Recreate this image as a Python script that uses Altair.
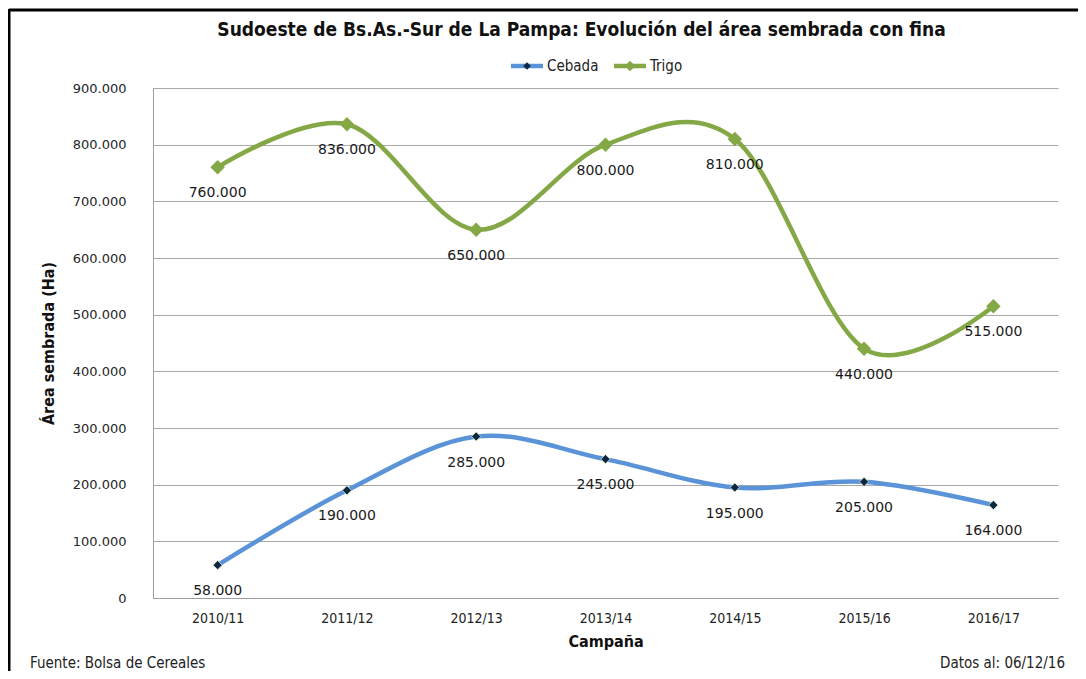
import altair as alt
import pandas as pd

campanas = ["2010/11", "2011/12", "2012/13", "2013/14", "2014/15", "2015/16", "2016/17"]
series = ["Cebada", "Trigo"]
cebada = [58000, 190000, 285000, 245000, 195000, 205000, 164000]
trigo = [760000, 836000, 650000, 800000, 810000, 440000, 515000]
y_ticks = [0, 100000, 200000, 300000, 400000, 500000, 600000, 700000, 800000, 900000]
titulo = "Sudoeste de Bs.As.-Sur de La Pampa: Evolución del área sembrada con fina"
fuente = "Fuente: Bolsa de Cereales"
fecha = "Datos al: 06/12/16"

colores = ["#5A93D8", "#84A846"]

rows = []
for s, vals in zip(series, [cebada, trigo]):
    for c, v in zip(campanas, vals):
        rows.append({"Campaña": c, "Serie": s, "Valor": v})
df = pd.DataFrame(rows)

W, H = 905, 510
CAL = "'Liberation Sans Narrow', 'DejaVu Sans Condensed', sans-serif"
VER = "'DejaVu Sans', Verdana, sans-serif"
FMT_VAL = "replace(format(datum.Valor, ','), regexp(',', 'g'), '.')"
FMT_AX = "replace(format(datum.value, ','), regexp(',', 'g'), '.')"

x = alt.X(
    "Campaña:N", sort=campanas,
    scale=alt.Scale(type="point", padding=0.5),
    axis=alt.Axis(title="Campaña", labelAngle=0, labelFont=CAL, labelFontSize=14,
                  labelColor="#222222", labelPadding=13, ticks=False,
                  domainColor="#9e9e9e", titleFont=CAL, titleFontSize=16,
                  titleFontWeight="bold", titlePadding=8, titleColor="#111111",
                  grid=False),
)
y = alt.Y(
    "Valor:Q",
    scale=alt.Scale(domain=[0, 900000], nice=False),
    axis=alt.Axis(title="Área sembrada (Ha)", values=y_ticks, labelExpr=FMT_AX,
                  labelFont=VER, labelFontSize=13, labelColor="#262626",
                  labelPadding=27, ticks=False, domainColor="#9e9e9e",
                  grid=True, gridColor="#a8a8a8", gridWidth=1,
                  titleFont=CAL, titleFontSize=16, titleFontWeight="bold",
                  titleColor="#111111", titlePadding=16),
)
color = alt.Color("Serie:N", scale=alt.Scale(domain=series, range=colores), legend=None)

base = alt.Chart(df).encode(x=x, y=y, color=color)

lines = base.mark_line(interpolate="cardinal", strokeWidth=4.5, strokeCap="round")
trigo_pts = base.transform_filter("datum.Serie == 'Trigo'").mark_point(
    shape="diamond", filled=True, size=210, opacity=1)
ceb_pts = base.transform_filter("datum.Serie == 'Cebada'").mark_point(
    shape="diamond", filled=True, size=85, opacity=1, stroke="#e4ead2", strokeWidth=0.8
).encode(color=alt.value("#0E2841"))
labels = base.transform_calculate(Etiqueta=FMT_VAL).mark_text(
    dy=26, font=VER, fontSize=14
).encode(text="Etiqueta:N", color=alt.value("#1a1a1a"))

one = pd.DataFrame({"k": [0]})

# title as text
title_mark = alt.Chart(one).mark_text(
    text=titulo, font=CAL, fontSize=19, fontWeight="bold", align="center",
    baseline="middle", color="#111111").encode(
    x=alt.value(W / 2 - 24), y=alt.value(-58))

# manual legend
legend_layers = []
leg_x = [358, 461]
leg_y = -22
for i, s in enumerate(series):
    lx = leg_x[i]
    legend_layers.append(
        alt.Chart(one).mark_rule(strokeWidth=4.5, color=colores[i]).encode(
            x=alt.value(lx), x2=alt.value(lx + 32), y=alt.value(leg_y)))
    if s == "Cebada":
        legend_layers.append(
            alt.Chart(one).mark_point(shape="diamond", filled=True, size=60, opacity=1,
                                      color="#0E2841").encode(
                x=alt.value(lx + 16), y=alt.value(leg_y)))
    else:
        legend_layers.append(
            alt.Chart(one).mark_point(shape="diamond", filled=True, size=110, opacity=1,
                                      color=colores[i]).encode(
                x=alt.value(lx + 16), y=alt.value(leg_y)))
    legend_layers.append(
        alt.Chart(one).mark_text(text=s, font=CAL, fontSize=15, align="left",
                                 baseline="middle", color="#222222").encode(
            x=alt.value(lx + 36), y=alt.value(leg_y)))

# border
border_top = alt.Chart(one).mark_rule(strokeWidth=3, color="black").encode(
    x=alt.value(-144), x2=alt.value(W + 22), y=alt.value(-78))
border_left = alt.Chart(one).mark_rule(strokeWidth=3, color="black").encode(
    x=alt.value(-144), y=alt.value(-79), y2=alt.value(H + 80))

foot_l = alt.Chart(one).mark_text(text=fuente, font=CAL, fontSize=15, align="left",
                                  baseline="middle", color="#222222").encode(
    x=alt.value(-123), y=alt.value(575))
foot_r = alt.Chart(one).mark_text(text=fecha, font=CAL, fontSize=15, align="right",
                                  baseline="middle", color="#222222").encode(
    x=alt.value(912), y=alt.value(575))

chart = alt.layer(
    lines, ceb_pts, trigo_pts, labels, title_mark, *legend_layers,
    border_top, border_left, foot_l, foot_r
).properties(
    width=W, height=H,
    autosize=alt.AutoSizeParams(type="none"),
    padding={"left": 145, "top": 80, "right": 20, "bottom": 73},
).configure_view(stroke=None)

chart.save("out.html", embed_options={"renderer": "svg", "actions": False})
